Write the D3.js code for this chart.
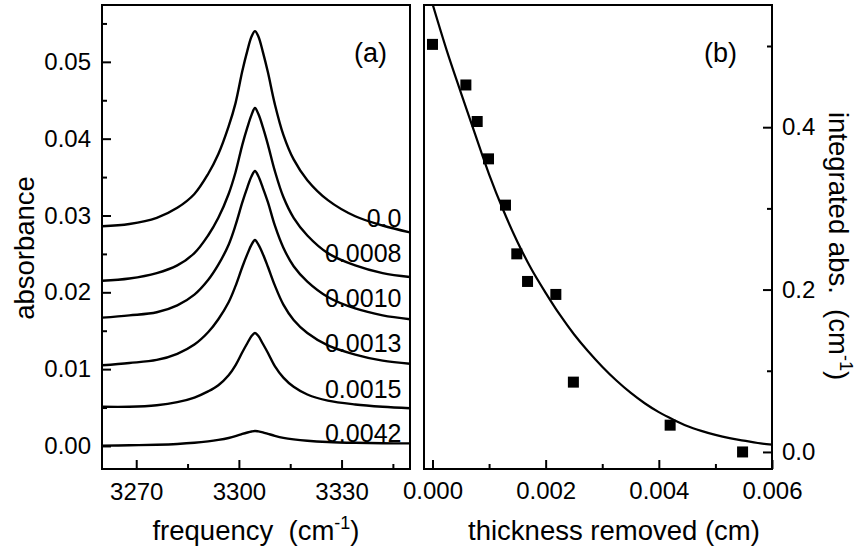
<!DOCTYPE html>
<html>
<head>
<meta charset="utf-8">
<script src="https://cdn.jsdelivr.net/npm/d3@7"></script>
<style>
  html, body { margin: 0; padding: 0; background: #fff; }
  svg { display: block; }
  text { font-family: "Liberation Sans", Arial, sans-serif; fill: #000; }
</style>
</head>
<body>
<svg id="chart" width="862" height="553"></svg>
<script>
// ---------- Panel (a): IR spectra ----------
const freq = [3260, 3268, 3276, 3282, 3287, 3291, 3294, 3297, 3299, 3301, 3302.5, 3303.7,
              3304.7, 3305.7, 3307, 3308.5, 3310.5, 3313, 3316, 3320, 3326, 3334, 3342, 3350];
const spec_0000 = [0.0286, 0.0289, 0.0297, 0.0310, 0.0328, 0.0354, 0.0380, 0.0416, 0.0446, 0.0488, 0.0515, 0.0533,
                   0.0540, 0.0533, 0.0513, 0.0486, 0.0445, 0.0405, 0.0373, 0.0346, 0.0320, 0.0299, 0.0287, 0.0278];
const spec_0008 = [0.0215, 0.0218, 0.0225, 0.0235, 0.0251, 0.0274, 0.0297, 0.0328, 0.0356, 0.0392, 0.0415, 0.0431,
                   0.0440, 0.0432, 0.0415, 0.0392, 0.0358, 0.0324, 0.0297, 0.0274, 0.0251, 0.0235, 0.0225, 0.0220];
const spec_0010 = [0.0167, 0.0170, 0.0174, 0.0183, 0.0197, 0.0216, 0.0236, 0.0262, 0.0287, 0.0317, 0.0337, 0.0351,
                   0.0358, 0.0351, 0.0336, 0.0317, 0.0287, 0.0258, 0.0234, 0.0214, 0.0194, 0.0179, 0.0170, 0.0165];
const spec_0013 = [0.0105, 0.0108, 0.0112, 0.0120, 0.0132, 0.0148, 0.0165, 0.0187, 0.0208, 0.0233, 0.0250, 0.0262,
                   0.0268, 0.0262, 0.0250, 0.0233, 0.0209, 0.0184, 0.0164, 0.0147, 0.0131, 0.0119, 0.0111, 0.0107];
const spec_0015 = [0.0051, 0.0051, 0.0053, 0.0057, 0.0063, 0.0071, 0.0079, 0.0092, 0.0105, 0.0122, 0.0134, 0.0143,
                   0.0147, 0.0143, 0.0133, 0.0121, 0.0104, 0.0089, 0.0077, 0.0067, 0.0059, 0.0054, 0.0051, 0.0049];
const spec_0042 = [0.00004, 0.00009, 0.00016, 0.00026, 0.00041, 0.00060, 0.00079, 0.00104, 0.00127, 0.00156, 0.00175, 0.00188,
                   0.00195, 0.00189, 0.00177, 0.00158, 0.00132, 0.00106, 0.00086, 0.00068, 0.00052, 0.00041, 0.00035, 0.00033];
const spectra = [spec_0000, spec_0008, spec_0010, spec_0013, spec_0015, spec_0042];
const spectrumLabels = ["0.0", "0.0008", "0.0010", "0.0013", "0.0015", "0.0042"];
const spectrumLabelLevel = [0.02855, 0.0240, 0.01806, 0.01228, 0.00621, 0.00056];

const freqMajorTicks = [3270, 3300, 3330];
const freqMinorTicks = [3285, 3315, 3345];
const absMajorTicks = [0.00, 0.01, 0.02, 0.03, 0.04, 0.05];
const absMinorTicks = [0.005, 0.015, 0.025, 0.035, 0.045, 0.055];

// ---------- Panel (b): integrated absorbance ----------
const thickness = [0.0000, 0.00059, 0.00079, 0.00099, 0.00129, 0.00149, 0.00168, 0.00218, 0.00249, 0.0042, 0.00548];
const integratedAbs = [0.502, 0.452, 0.407, 0.361, 0.304, 0.244, 0.210, 0.194, 0.086, 0.033, 0.000];
const fitThickness = [0, 0.00025, 0.0005, 0.00075, 0.001, 0.00125, 0.0015, 0.00175, 0.002, 0.00225, 0.0025,
                      0.00275, 0.003, 0.00325, 0.0035, 0.00375, 0.004, 0.00425, 0.0045, 0.00475, 0.005,
                      0.00525, 0.0055, 0.00575, 0.006];
const fitAbs = [0.552, 0.495, 0.443, 0.392, 0.342, 0.298, 0.259, 0.225, 0.196, 0.169, 0.145,
                0.124, 0.105, 0.088, 0.073, 0.060, 0.049, 0.040, 0.032, 0.026, 0.021,
                0.017, 0.014, 0.011, 0.009];

const thickMajorTicks = [0.000, 0.002, 0.004, 0.006];
const thickMinorTicks = [0.001, 0.003, 0.005];
const intMajorTicks = [0.0, 0.2, 0.4];
const intMinorTicks = [0.1, 0.3, 0.5];

// ---------- drawing ----------
const svg = d3.select("#chart");
const TICK_FS = 24, TITLE_FS = 27.5;
const MAJ = 9, MIN = 5;

// Panel (a)
const A = {left: 102, right: 410, top: 5, bottom: 469};
const xA = d3.scaleLinear().domain([3260, 3350]).range([A.left, A.right]);
const yA = d3.scaleLinear().domain([-0.003, 0.0574]).range([A.bottom, A.top]);

const gA = svg.append("g");
gA.append("defs").append("clipPath").attr("id", "clipA")
  .append("rect").attr("x", A.left).attr("y", A.top)
  .attr("width", A.right - A.left).attr("height", A.bottom - A.top);

const lineA = d3.line().x((d, i) => xA(freq[i])).y(d => yA(d)).curve(d3.curveCatmullRom.alpha(0.5));
gA.append("g").attr("clip-path", "url(#clipA)")
  .selectAll("path").data(spectra).join("path")
  .attr("d", d => lineA(d))
  .attr("fill", "none").attr("stroke", "#000").attr("stroke-width", 2.4);

gA.selectAll("text.lbl").data(spectrumLabels).join("text")
  .attr("class", "lbl")
  .attr("x", xA(3347.5)).attr("y", (d, i) => yA(spectrumLabelLevel[i]))
  .attr("text-anchor", "end").style("font-size", "25px").text(d => d);

// axes for (a): ticks inside
gA.append("g").attr("transform", `translate(${A.left},0)`)
  .call(d3.axisLeft(yA).tickValues(absMajorTicks).tickSize(-MAJ).tickFormat(d3.format(".2f")))
  .call(g => { g.select(".domain").remove();
    g.selectAll("line").attr("stroke", "#000").attr("stroke-width", 2);
    g.selectAll("text").style("font-size", TICK_FS + "px").attr("x", -11); });
gA.append("g").attr("transform", `translate(${A.left},0)`)
  .call(d3.axisLeft(yA).tickValues(absMinorTicks).tickSize(-MIN).tickFormat(""))
  .call(g => { g.select(".domain").remove(); g.selectAll("line").attr("stroke", "#000").attr("stroke-width", 2); });

gA.append("g").attr("transform", `translate(0,${A.bottom})`)
  .call(d3.axisBottom(xA).tickValues(freqMajorTicks).tickSize(-MAJ).tickFormat(d3.format("d")))
  .call(g => { g.select(".domain").remove();
    g.selectAll("line").attr("stroke", "#000").attr("stroke-width", 2);
    g.selectAll("text").style("font-size", TICK_FS + "px").attr("y", 31).attr("dy", null); });
gA.append("g").attr("transform", `translate(0,${A.bottom})`)
  .call(d3.axisBottom(xA).tickValues(freqMinorTicks).tickSize(-MIN).tickFormat(""))
  .call(g => { g.select(".domain").remove(); g.selectAll("line").attr("stroke", "#000").attr("stroke-width", 2); });

gA.append("rect").attr("x", A.left).attr("y", A.top)
  .attr("width", A.right - A.left).attr("height", A.bottom - A.top)
  .attr("fill", "none").attr("stroke", "#000").attr("stroke-width", 2);

gA.append("text").attr("x", 354).attr("y", 62).style("font-size", "27px").text("(a)");

const tA = gA.append("text").attr("x", (A.left + A.right) / 2).attr("y", 540)
  .attr("text-anchor", "middle").style("font-size", TITLE_FS + "px").style("white-space", "pre");
tA.append("tspan").text("frequency  (cm");
tA.append("tspan").attr("dy", -11).style("font-size", "18px").text("-1");
tA.append("tspan").attr("dy", 11).text(")");

gA.append("text").attr("transform", "translate(34,248) rotate(-90)")
  .attr("text-anchor", "middle").style("font-size", TITLE_FS + "px").text("absorbance");

// Panel (b)
const B = {left: 424, right: 772, top: 5, bottom: 469};
const xB = d3.scaleLinear().domain([-0.00015, 0.006]).range([B.left, B.right]);
const yB = d3.scaleLinear().domain([-0.021, 0.5505]).range([B.bottom, B.top]);
const gB = svg.append("g");
gB.append("defs").append("clipPath").attr("id", "clipB")
  .append("rect").attr("x", B.left).attr("y", B.top)
  .attr("width", B.right - B.left).attr("height", B.bottom - B.top);

const lineB = d3.line().x((d, i) => xB(fitThickness[i])).y(d => yB(d)).curve(d3.curveCatmullRom.alpha(0.5));
gB.append("path").attr("clip-path", "url(#clipB)").attr("d", lineB(fitAbs))
  .attr("fill", "none").attr("stroke", "#000").attr("stroke-width", 2.2);

const SQ = 11;
gB.selectAll("rect.pt").data(integratedAbs).join("rect")
  .attr("class", "pt")
  .attr("x", (d, i) => xB(thickness[i]) - SQ / 2).attr("y", d => yB(d) - SQ / 2)
  .attr("width", SQ).attr("height", SQ).attr("fill", "#000");

gB.append("g").attr("transform", `translate(${B.right},0)`)
  .call(d3.axisRight(yB).tickValues(intMajorTicks).tickSize(-MAJ).tickFormat(d3.format(".1f")))
  .call(g => { g.select(".domain").remove();
    g.selectAll("line").attr("stroke", "#000").attr("stroke-width", 2);
    g.selectAll("text").style("font-size", TICK_FS + "px").attr("x", 10); });
gB.append("g").attr("transform", `translate(${B.right},0)`)
  .call(d3.axisRight(yB).tickValues(intMinorTicks).tickSize(-MIN).tickFormat(""))
  .call(g => { g.select(".domain").remove(); g.selectAll("line").attr("stroke", "#000").attr("stroke-width", 2); });

gB.append("g").attr("transform", `translate(0,${B.bottom})`)
  .call(d3.axisBottom(xB).tickValues(thickMajorTicks).tickSize(-MAJ).tickFormat(d3.format(".3f")))
  .call(g => { g.select(".domain").remove();
    g.selectAll("line").attr("stroke", "#000").attr("stroke-width", 2);
    g.selectAll("text").style("font-size", TICK_FS + "px").attr("y", 30).attr("dy", null); });
gB.append("g").attr("transform", `translate(0,${B.bottom})`)
  .call(d3.axisBottom(xB).tickValues(thickMinorTicks).tickSize(-MIN).tickFormat(""))
  .call(g => { g.select(".domain").remove(); g.selectAll("line").attr("stroke", "#000").attr("stroke-width", 2); });

gB.append("rect").attr("x", B.left).attr("y", B.top)
  .attr("width", B.right - B.left).attr("height", B.bottom - B.top)
  .attr("fill", "none").attr("stroke", "#000").attr("stroke-width", 2);

gB.append("text").attr("x", 704).attr("y", 62).style("font-size", "27px").text("(b)");

gB.append("text").attr("x", 614).attr("y", 540).attr("text-anchor", "middle")
  .style("font-size", TITLE_FS + "px").text("thickness removed (cm)");

const tB = gB.append("text").attr("transform", "translate(829,246) rotate(90)")
  .attr("text-anchor", "middle").style("font-size", TITLE_FS + "px").style("white-space", "pre");
tB.append("tspan").text("integrated abs.  (cm");
tB.append("tspan").attr("dy", -11).style("font-size", "18px").text("-1");
tB.append("tspan").attr("dy", 11).text(")");
</script>
</body>
</html>
